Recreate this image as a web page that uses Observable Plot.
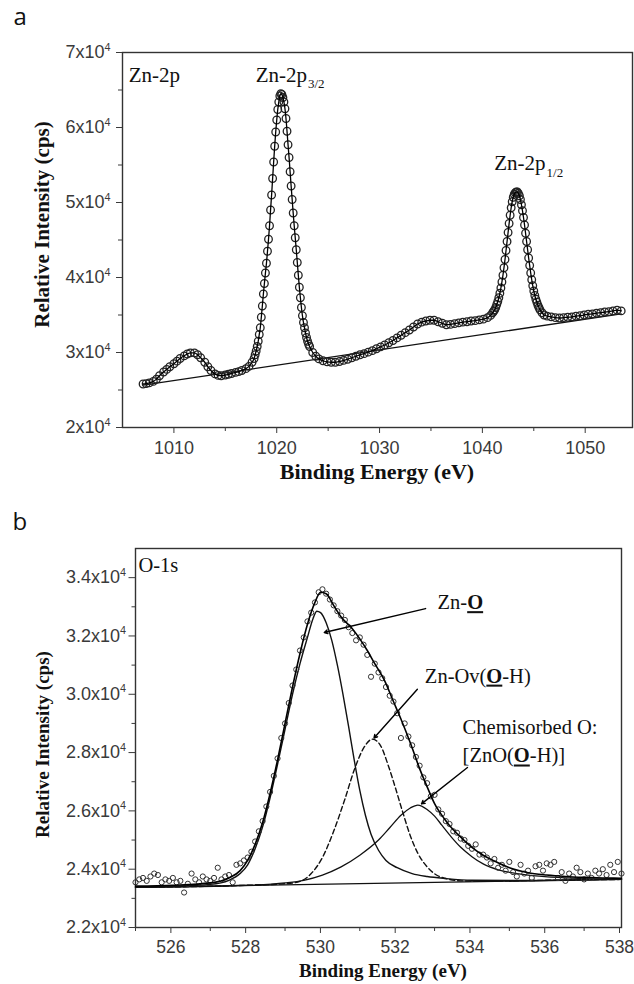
<!DOCTYPE html>
<html><head><meta charset="utf-8">
<script src="https://cdn.jsdelivr.net/npm/d3@7"></script>
<script src="https://cdn.jsdelivr.net/npm/@observablehq/plot@0.6"></script>
<style>
html,body{margin:0;padding:0;background:#fff;}
#wrap{position:relative;width:634px;height:984px;overflow:hidden;background:#fff;}
#wrap svg{display:block;}
</style></head>
<body><div id="wrap"><div id="pa"></div><div id="pb"></div></div>
<script>
// ---------- Panel a : Zn-2p ----------
const znData = [
[1007.0,25800],[1007.3,25850],[1007.6,25950],[1008.0,26150],[1008.3,26450],[1008.6,26900],[1009.0,27400],[1009.3,27750],[1009.6,28100],[1010.0,28500],
[1010.3,28850],[1010.6,29200],[1011.0,29550],[1011.3,29800],[1011.6,29950],[1012.0,29950],[1012.3,29700],[1012.6,29300],[1013.0,28700],[1013.3,28100],
[1013.6,27600],[1014.0,27150],[1014.3,26950],[1014.6,26900],[1015.0,27000],[1015.3,27100],[1015.6,27200],[1016.0,27350],[1016.3,27450],[1016.6,27600],
[1017.0,27850],[1017.3,28150],[1017.6,28700],[1017.8,29200],[1017.9,29700],[1018.0,30200],[1018.1,30800],[1018.2,31500],[1018.3,32400],[1018.4,33300],
[1018.5,34700],[1018.6,36200],[1018.7,37800],[1018.8,39200],[1018.9,40600],[1019.0,41900],[1019.1,43500],[1019.2,45100],[1019.3,46900],[1019.4,49000],
[1019.5,51000],[1019.6,53200],[1019.7,55400],[1019.8,57500],[1019.9,59400],[1020.0,61000],[1020.1,62400],[1020.2,63400],[1020.3,64200],[1020.4,64500],
[1020.5,64400],[1020.6,64000],[1020.7,63400],[1020.8,62500],[1020.9,61200],[1021.0,59500],[1021.1,57700],[1021.2,56000],[1021.3,54100],[1021.4,52200],
[1021.5,50400],[1021.6,48600],[1021.7,46900],[1021.8,45300],[1021.9,43700],[1022.0,42000],[1022.1,40300],[1022.2,38700],[1022.3,37300],[1022.4,36000],
[1022.5,34900],[1022.6,34000],[1022.7,33300],[1022.8,32600],[1022.9,32000],[1023.0,31500],[1023.1,31100],[1023.2,30800],[1023.5,30000],[1023.8,29500],
[1024.1,29150],[1024.5,28900],[1024.9,28750],[1025.3,28700],[1025.7,28700],[1026.1,28800],[1026.5,28950],[1026.9,29100],[1027.3,29300],[1027.7,29500],
[1028.1,29700],[1028.5,29850],[1028.9,30050],[1029.3,30250],[1029.7,30500],[1030.1,30750],[1030.5,31000],[1030.9,31300],[1031.3,31600],[1031.7,31950],
[1032.1,32300],[1032.5,32650],[1032.9,33000],[1033.3,33400],[1033.7,33800],[1034.1,34050],[1034.5,34200],[1034.9,34300],[1035.3,34300],[1035.7,34100],
[1036.1,33900],[1036.5,33700],[1036.9,33750],[1037.3,33850],[1037.7,33950],[1038.1,34050],[1038.5,34100],[1038.9,34200],[1039.3,34250],[1039.7,34350],
[1040.1,34450],[1040.5,34650],[1040.8,34950],[1041.0,35300],[1041.1,35500],[1041.2,35700],[1041.3,36000],[1041.4,36400],[1041.5,36800],[1041.6,37300],
[1041.7,37900],[1041.8,38600],[1041.9,39400],[1042.0,40300],[1042.1,41300],[1042.2,42400],[1042.3,43600],[1042.4,44800],[1042.5,46000],[1042.6,47200],
[1042.7,48300],[1042.8,49300],[1042.9,50100],[1043.0,50700],[1043.1,51100],[1043.2,51300],[1043.3,51400],[1043.4,51400],[1043.5,51200],[1043.6,50900],
[1043.7,50400],[1043.8,49700],[1043.9,48900],[1044.0,48000],[1044.1,47000],[1044.2,45900],[1044.3,44800],[1044.4,43700],[1044.5,42600],[1044.6,41600],
[1044.7,40600],[1044.8,39700],[1044.9,38900],[1045.0,38200],[1045.1,37600],[1045.2,37100],[1045.3,36700],[1045.4,36300],[1045.5,36000],[1045.6,35700],
[1045.8,35300],[1046.0,35000],[1046.3,34850],[1046.7,34750],[1047.1,34650],[1047.5,34600],[1047.9,34650],[1048.3,34700],[1048.7,34750],[1049.1,34850],
[1049.5,34900],[1049.9,35000],[1050.3,35100],[1050.7,35150],[1051.1,35250],[1051.5,35300],[1051.9,35400],[1052.3,35450],[1052.7,35550],[1053.1,35650],
[1053.5,35550]
];
const znBaseline = [[1007.0,25650],[1053.5,35150]];
const znXTicks = [1010, 1020, 1030, 1040, 1050];
const znXMinor = [1015, 1025, 1035, 1045];
const znYTicks = [20000, 30000, 40000, 50000, 60000, 70000];
const znYMinor = [25000, 35000, 45000, 55000, 65000];
const znLabels = [
  {x: 1005.6, y: 66130, text: "Zn-2p"},
  {x: 1017.95, y: 66130, text: "Zn-2p_{3/2}"},
  {x: 1041.15, y: 54270, text: "Zn-2p_{1/2}"}
];

// ---------- Panel b : O-1s ----------
const oData = [
[525.0,23550],[525.1,23650],[525.2,23700],[525.3,23600],[525.4,23750],[525.5,23850],[525.6,23800],[525.7,23550],[525.8,23650],[525.9,23600],
[526.0,23700],[526.1,23550],[526.2,23600],[526.3,23200],[526.4,23500],[526.5,23850],[526.6,23650],[526.7,23550],[526.8,23750],[526.9,23650],
[527.0,23600],[527.1,23700],[527.2,24050],[527.3,23650],[527.4,23750],[527.5,23800],[527.6,23550],[527.7,24150],[527.8,24200],[527.9,24300],
[528.0,24400],[528.1,24600],[528.2,24950],[528.3,25300],[528.4,25650],[528.5,26150],[528.6,26650],[528.7,27200],[528.8,27800],[528.9,28500],
[529.0,29000],[529.1,29700],[529.2,30300],[529.3,30850],[529.4,31500],[529.5,31950],[529.6,32500],[529.7,32800],[529.8,33150],[529.9,33500],
[530.0,33600],[530.1,33450],[530.2,33250],[530.3,33050],[530.4,32850],[530.5,32700],[530.6,32550],[530.7,32300],[530.8,32100],[530.9,31850],
[531.0,31950],[531.1,31700],[531.2,31350],[531.3,30600],[531.4,31050],[531.5,30750],[531.6,30550],[531.7,30250],[531.8,29950],[531.9,29750],
[532.0,29350],[532.1,28500],[532.2,29000],[532.3,28550],[532.4,28250],[532.5,27850],[532.6,27550],[532.7,27150],[532.8,26950],[532.9,26500],
[533.0,26550],[533.1,26050],[533.2,25900],[533.3,25650],[533.4,25550],[533.5,25300],[533.6,25250],[533.7,25050],[533.8,25000],[533.9,24800],
[534.0,24700],[534.1,24850],[534.2,24500],[534.3,24500],[534.4,24400],[534.5,24200],[534.6,24350],[534.7,24050],[534.8,24150],[534.9,23950],
[535.0,24250],[535.1,23900],[535.2,23750],[535.3,24150],[535.4,23850],[535.5,23950],[535.6,23700],[535.7,24100],[535.8,24150],[535.9,23950],
[536.0,24200],[536.1,24150],[536.2,24250],[536.3,23700],[536.4,23900],[536.5,23600],[536.6,23850],[536.7,23750],[536.8,24050],[536.9,23900],
[537.0,23650],[537.1,23850],[537.2,23700],[537.3,23950],[537.4,23850],[537.5,24000],[537.6,23800],[537.7,24150],[537.8,23900],[537.9,24250],
[538.0,23850]
];
const oEnvelope = [
[525,23420],[526,23450],[527,23530],[527.5,23700],[527.8,23950],[528.0,24300],[528.2,24850],[528.4,25600],[528.6,26600],[528.8,27750],
[529.0,29000],[529.2,30250],[529.4,31400],[529.6,32400],[529.8,33150],[529.95,33500],[530.1,33450],[530.3,33050],[530.5,32650],[530.8,32250],
[531.0,31900],[531.2,31500],[531.4,31050],[531.65,30500],[531.9,29750],[532.1,29150],[532.36,28300],[532.6,27450],[532.81,26800],[533.0,26250],
[533.25,25750],[533.5,25350],[533.7,25100],[534.0,24750],[534.3,24480],[534.6,24280],[535.0,24050],[535.5,23880],[536.0,23800],[536.5,23750],
[537.0,23720],[537.5,23700],[538.0,23690]
];
const oZnO = [
[525,23400],[526,23420],[527,23480],[527.5,23620],[527.8,23850],[528.0,24150],[528.2,24700],[528.4,25450],[528.6,26450],[528.8,27600],
[529.0,28800],[529.2,30000],[529.4,31050],[529.6,31950],[529.75,32600],[529.85,32850],[529.95,32800],[530.1,32450],[530.25,31850],[530.4,31000],
[530.55,30000],[530.7,28900],[530.85,27750],[531.0,26700],[531.15,25850],[531.3,25200],[531.5,24650],[531.7,24300],[532.0,24050],[532.4,23850],
[532.8,23750],[533.3,23680],[534.0,23620],[535.0,23610],[536.5,23630],[538,23655]
];
const oOv = [
[525,23380],[528,23450],[529,23500],[529.4,23580],[529.7,23850],[530.0,24400],[530.3,25300],[530.6,26400],[530.85,27400],[531.1,28150],
[531.34,28460],[531.55,28250],[531.75,27600],[531.95,26800],[532.15,25950],[532.35,25150],[532.55,24550],[532.8,24080],[533.05,23800],[533.3,23680],
[533.7,23600],[534.5,23590],[535.5,23610],[538,23650]
];
const oChem = [
[525,23380],[528,23450],[529,23530],[529.5,23620],[530.0,23800],[530.5,24080],[531.0,24480],[531.5,25000],[531.8,25420],[532.1,25850],
[532.35,26100],[532.55,26200],[532.8,26050],[533.0,25820],[533.2,25500],[533.45,25100],[533.7,24750],[534.0,24430],[534.3,24180],[534.7,23980],
[535.2,23850],[535.8,23760],[536.5,23700],[537.2,23670],[538,23660]
];
const oBaseline = [[525,23380],[538,23650]];
const oXTicks = [526, 528, 530, 532, 534, 536, 538];
const oXMinor = [525, 527, 529, 531, 533, 535, 537];
const oYTicks = [22000, 24000, 26000, 28000, 30000, 32000, 34000];
const oYMinor = [23000, 25000, 27000, 29000, 31000, 33000];
const oLabels = [
  {x: 525.08, y: 34180, text: "O-1s"},
  {x: 533.08, y: 32920, text: "Zn-*O*"},
  {x: 532.74, y: 30400, text: "Zn-Ov(*O*-H)"},
  {x: 533.75, y: 28630, text: "Chemisorbed O:"},
  {x: 533.75, y: 27660, text: "[ZnO(*O*-H)]"}
];
const oArrows = [
  {x1: 532.76, y1: 32940, x2: 530.05, y2: 32120},
  {x1: 532.54, y1: 30170, x2: 531.38, y2: 28500},
  {x1: 533.88, y1: 27490, x2: 532.65, y2: 26240}
];

// ---------- helpers ----------
const SERIF = "'Liberation Serif', 'Times New Roman', serif";
const SANS = "'Liberation Sans', Arial, sans-serif";
const TICKC = "#3a3a3a";
const X = d => d[0], Y = d => d[1];

function richify(root) {
  d3.select(root).selectAll("text").each(function () {
    if (this.querySelector("tspan")) return;
    const t = this.textContent;
    if (!/\^\{|_\{|\*/.test(t)) return;
    const fs = parseFloat(getComputedStyle(this).fontSize) || 16;
    const parts = t.split(/(\^\{[^}]*\}|_\{[^}]*\}|\*[^*]+\*)/).filter(Boolean);
    const el = d3.select(this).text(null);
    for (const p of parts) {
      if (p.startsWith("^{")) el.append("tspan").attr("font-size", fs * 0.6).attr("dy", -fs * 0.42).text(p.slice(2, -1));
      else if (p.startsWith("_{")) el.append("tspan").attr("font-size", fs * 0.62).attr("dy", fs * 0.3).attr("dx", 1).text(p.slice(2, -1));
      else if (p.startsWith("*")) el.append("tspan").attr("font-weight", "bold").attr("text-decoration", "underline").text(p.slice(1, -1));
      else el.append("tspan").text(p);
    }
  });
}

// ---------- Panel a ----------
const pa = Plot.plot({
  width: 634, height: 492,
  marginTop: 52, marginLeft: 122, marginRight: 2, marginBottom: 65,
  x: {domain: [1005, 1054.6]},
  y: {domain: [20000, 70000]},
  style: {background: "white", overflow: "visible"},
  marks: [
    Plot.frame({stroke: "#333", strokeWidth: 1.4}),
    Plot.axisX(znXTicks, {tickSize: 6, tickPadding: 8, fontSize: 18, fontFamily: SANS, color: TICKC, label: null, tickFormat: d => `${d}`}),
    Plot.axisX(znXMinor, {tickSize: 4, color: TICKC, label: null, tickFormat: () => ""}),
    Plot.axisY(znYTicks, {tickSize: 6, tickPadding: 6, fontSize: 18, fontFamily: SANS, color: TICKC, label: null, tickFormat: d => `${d / 1e4}x10^{4}`}),
    Plot.axisY(znYMinor, {tickSize: 4, color: TICKC, label: null, tickFormat: () => ""}),
    Plot.line(znBaseline, {x: X, y: Y, stroke: "#111", strokeWidth: 1.3}),
    Plot.dot(znData, {x: X, y: Y, r: 3.8, stroke: "#222", strokeWidth: 1.3, fill: "none"}),
    Plot.line(znData, {x: X, y: Y, curve: "monotone-x", stroke: "#000", strokeWidth: 1.3}),
    Plot.text(znLabels, {x: "x", y: "y", text: "text", fontSize: 21, fontFamily: SERIF, textAnchor: "start", lineAnchor: "bottom", fill: "#111"}),
    Plot.text(["Binding Energy (eV)"], {text: d => d, frameAnchor: "bottom", dx: -0.5, dy: 51, fontSize: 22, fontWeight: "bold", fontFamily: SERIF, textAnchor: "middle", lineAnchor: "bottom", fill: "#111"}),
    Plot.text(["Relative Intensity (cps)"], {text: d => d, frameAnchor: "left", rotate: -90, dx: -74, dy: -15.5, fontSize: 21, fontWeight: "bold", fontFamily: SERIF, textAnchor: "middle", lineAnchor: "bottom", fill: "#111"}),
    Plot.text(["a"], {text: d => d, frameAnchor: "top-left", dx: -109, dy: -28, fontSize: 24, fontFamily: "'Open Sans', sans-serif", textAnchor: "start", lineAnchor: "bottom", fill: "#111"})
  ]
});
document.getElementById("pa").appendChild(pa);
richify(pa);

// ---------- Panel b ----------
const pb = Plot.plot({
  width: 634, height: 492,
  marginTop: 56, marginLeft: 135, marginRight: 13, marginBottom: 57,
  x: {domain: [525, 538]},
  y: {domain: [22000, 35000]},
  style: {background: "white", overflow: "visible"},
  marks: [
    Plot.frame({stroke: "#333", strokeWidth: 1.4}),
    Plot.axisX(oXTicks, {tickSize: 6, tickPadding: 7, dx: -2, fontSize: 17.5, fontFamily: SANS, color: TICKC, label: null, tickFormat: d => `${d}`}),
    Plot.axisX(oXMinor, {tickSize: 4, color: TICKC, label: null, tickFormat: () => ""}),
    Plot.axisY(oYTicks, {tickSize: 6.5, tickPadding: 3, fontSize: 18, fontFamily: SANS, color: TICKC, label: null, tickFormat: d => `${d3.format(".1f")(d / 1e4)}x10^{4}`}),
    Plot.axisY(oYMinor, {tickSize: 3.5, color: TICKC, label: null, tickFormat: () => ""}),
    Plot.line(oBaseline, {x: X, y: Y, stroke: "#111", strokeWidth: 1.3}),
    Plot.line(oChem, {x: X, y: Y, curve: "monotone-x", stroke: "#111", strokeWidth: 1.3}),
    Plot.line(oOv, {x: X, y: Y, curve: "monotone-x", stroke: "#111", strokeWidth: 1.4, strokeDasharray: "5,3"}),
    Plot.line(oZnO, {x: X, y: Y, curve: "monotone-x", stroke: "#111", strokeWidth: 1.4}),
    Plot.dot(oData, {x: X, y: Y, r: 2.6, stroke: "#333", strokeWidth: 1, fill: "none"}),
    Plot.line(oEnvelope, {x: X, y: Y, curve: "monotone-x", stroke: "#000", strokeWidth: 1.6}),
    Plot.arrow(oArrows, {x1: "x1", y1: "y1", x2: "x2", y2: "y2", stroke: "#000", strokeWidth: 1.4, headLength: 4}),
    Plot.text(oLabels, {x: "x", y: "y", text: "text", fontSize: 20.5, fontFamily: SERIF, textAnchor: "start", lineAnchor: "bottom", fill: "#111"}),
    Plot.text(["Binding Energy (eV)"], {text: d => d, frameAnchor: "bottom", dx: 4.5, dy: 49.7, fontSize: 19, fontWeight: "bold", fontFamily: SERIF, textAnchor: "middle", lineAnchor: "bottom", fill: "#111"}),
    Plot.text(["Relative Intensity (cps)"], {text: d => d, frameAnchor: "left", rotate: -90, dx: -87, dy: 6.5, fontSize: 19, fontWeight: "bold", fontFamily: SERIF, textAnchor: "middle", lineAnchor: "bottom", fill: "#111"}),
    Plot.text(["b"], {text: d => d, frameAnchor: "top-left", dx: -123, dy: -19, fontSize: 24, fontFamily: "'Open Sans', sans-serif", textAnchor: "start", lineAnchor: "bottom", fill: "#111"})
  ]
});
document.getElementById("pb").appendChild(pb);
richify(pb);
</script>
</body></html>
